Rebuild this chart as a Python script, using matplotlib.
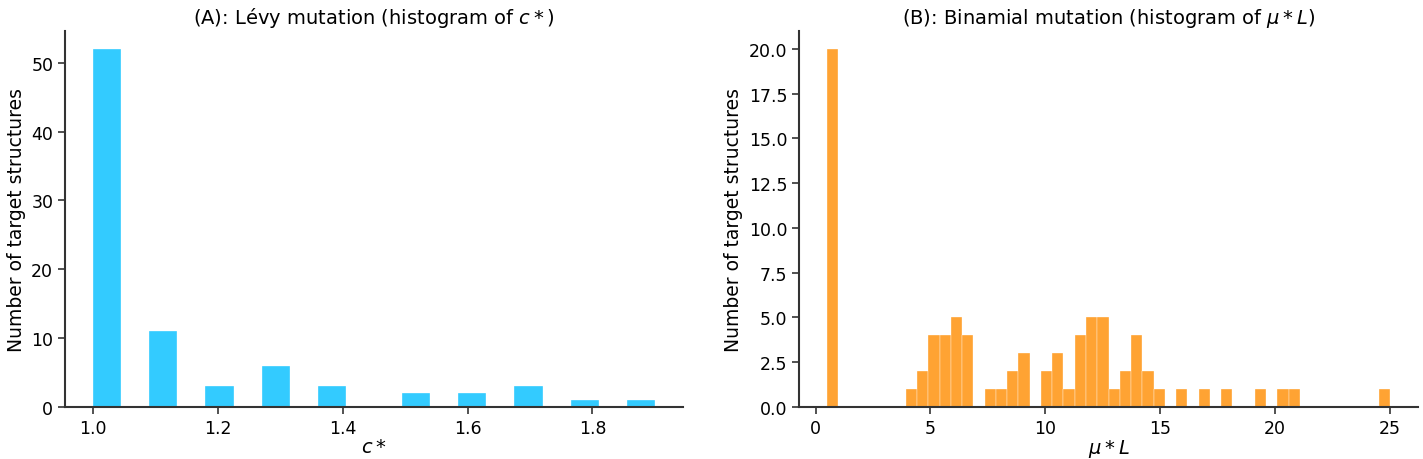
import numpy as np
import matplotlib
matplotlib.use("Agg")
import matplotlib.pyplot as plt

# Panel A: histogram of c* (20 bins from 1.0 to 1.9)
a_edges = np.linspace(1.0, 1.9, 21)
a_counts = [52, 0, 11, 0, 3, 0, 6, 0, 3, 0, 0, 2, 0, 2, 0, 3, 0, 1, 0, 1]

# Panel B: histogram of mu*L (50 bins from 0.5 to 25)
b_edges = np.linspace(0.5, 25.0, 51)
b_counts = [20, 0, 0, 0, 0, 0, 0, 1, 2, 4,
            4, 5, 4, 0, 1, 1, 2, 3, 0, 2,
            3, 1, 4, 5, 5, 1, 2, 4, 2, 1,
            0, 1, 0, 1, 0, 1, 0, 0, 1, 0,
            1, 1, 0, 0, 0, 0, 0, 0, 0, 1]

titles = ["(A): Lévy mutation (histogram of $c*$)",
          "(B): Binamial mutation (histogram of $\\mu*L$)"]
xlabels = ["$c*$", "$\\mu*L$"]
ylabel = "Number of target structures"

plt.rcParams['font.family'] = ['DejaVu Sans']
fig = plt.figure(figsize=(14.23, 4.6), dpi=100)
ax1 = fig.add_axes([65/1423, 1-408/460, (683-65)/1423, (408-32)/460])
ax2 = fig.add_axes([799/1423, 1-408/460, (1418-799)/1423, (408-32)/460])

def centers(e):
    e = np.asarray(e)
    return (e[:-1] + e[1:]) / 2

ax1.hist(centers(a_edges), bins=a_edges, weights=a_counts,
         color='deepskyblue', alpha=0.8, edgecolor='white', linewidth=0.3)
ax2.hist(centers(b_edges), bins=b_edges, weights=b_counts,
         color='darkorange', alpha=0.8, edgecolor='white', linewidth=0.3)

for ax, t, xl in zip([ax1, ax2], titles, xlabels):
    ax.set_title(t, fontsize=14, pad=6)
    ax.set_xlabel(xl, fontsize=14, labelpad=0)
    ax.set_ylabel(ylabel, fontsize=13.5, labelpad=4)
    ax.tick_params(labelsize=12.5, width=1.2, length=5, color='#333333')
    for s in ['top', 'right']:
        ax.spines[s].set_visible(False)
    for s in ['left', 'bottom']:
        ax.spines[s].set_linewidth(1.5)
        ax.spines[s].set_color('#333333')

ax2.yaxis.set_major_formatter(matplotlib.ticker.FormatStrFormatter('%.1f'))

fig.savefig("out.png", dpi=100)
